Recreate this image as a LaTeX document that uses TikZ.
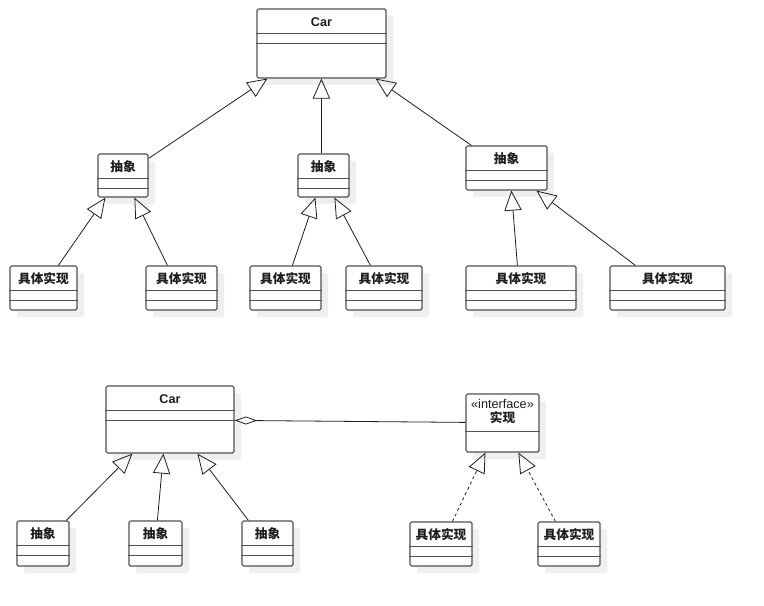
\documentclass[tikz,border=0pt]{standalone}
\usepackage{fontspec}
\setmainfont{Liberation Sans}
\newfontfamily\cjk{Noto Sans CJK SC}
\usepackage{tikz}
\usetikzlibrary{positioning,arrows.meta,calc,fit,shadows}
\definecolor{ink}{HTML}{1E1E1E}
\definecolor{frame}{HTML}{505050}
\definecolor{shade}{HTML}{EFEFEF}
\tikzset{
  cls/.style  = {draw=frame, fill=white, line width=0.9pt, rounded corners=1.2pt, inner sep=0pt,
                 general shadow={fill=shade, shadow xshift=5.25pt, shadow yshift=-5.25pt}},
  ttl/.style  = {font=\fontsize{9.5}{10.5}\selectfont\bfseries, text=ink, inner sep=0pt, align=center},
  div/.style  = {draw=frame, line width=0.9pt},
  gen/.style  = {-{Triangle[open, length=15pt, width=13pt]}, line width=0.6pt, draw=ink},
  real/.style = {gen, dash pattern=on 2.2pt off 2.2pt},
  agg/.style  = {{Diamond[open, length=17pt, width=6pt]}-, line width=0.6pt, draw=ink},
}
\begin{document}
\begin{tikzpicture}[x=0.75pt, y=-0.75pt]
  \useasboundingbox (0,0) rectangle (764,606);

  % class boxes: name / left / top / right / bottom / title
  \foreach \n/\l/\t/\r/\b/\txt in {
      car/257/9/386/78/Car,
      a1/98/154/148/197/{\cjk 抽象}, a2/298/154/349/197/{\cjk 抽象}, a3/466/146/547/190/{\cjk 抽象},
      k11/10/266/77/310/{\cjk 具体实现}, k12/146/266/217/310/{\cjk 具体实现},
      k21/250/266/321/310/{\cjk 具体实现}, k22/346/266/422/310/{\cjk 具体实现},
      k31/466/266/576/310/{\cjk 具体实现}, k32/610/266/725/310/{\cjk 具体实现},
      car2/106/386/234/453/Car,
      b1/17/521/69/566/{\cjk 抽象}, b2/129/521/182/566/{\cjk 抽象}, b3/242/521/293/566/{\cjk 抽象},
      k41/410/522/472/566/{\cjk 具体实现}, k42/538/522/600/566/{\cjk 具体实现}}{
    \node[cls, fit={(\l,\t) (\r,\b)}] (\n) {};
    \node[ttl] (\n-t) at ($(\n.north)+(0,13.5)$) {\txt};
    \draw[div] ($(\n.north west)+(0,25)$) -- ($(\n.north east)+(0,25)$);
    \draw[div] ($(\n.north west)+(0,35)$) -- ($(\n.north east)+(0,35)$);
  }

  % interface
  \node[cls, fit={(466,394) (539,452)}] (impl) {};
  \node[ttl] (impl-t) at ($(impl.north)+(0,18)$) {\mdseries «interface»\\{\cjk\bfseries 实现}};
  \draw[div] ($(impl.north west)+(0,38)$) -- ($(impl.north east)+(0,38)$);

  % upper hierarchy
  \draw[gen] ($(a1.north east)+(0,5)$) -- ($(car.south west)+(11,0)$);
  \draw[gen] ($(a2.north west)+(24,0)$) -- ($(car.south west)+(65,0)$);
  \draw[gen] ($(a3.north west)+(6,0)$) -- ($(car.south east)+(-11,0)$);
  \draw[gen] ($(k11.north west)+(49,0)$) -- ($(a1.south west)+(8,0)$);
  \draw[gen] ($(k12.north west)+(22,0)$) -- ($(a1.south west)+(37,0)$);
  \draw[gen] ($(k21.north west)+(43,0)$) -- ($(a2.south west)+(18,0)$);
  \draw[gen] ($(k22.north west)+(25,0)$) -- ($(a2.south west)+(37,0)$);
  \draw[gen] ($(k31.north west)+(52,0)$) -- ($(a3.south west)+(46,0)$);
  \draw[gen] ($(k32.north west)+(26,0)$) -- ($(a3.south west)+(71,0)$);

  % lower hierarchy
  \draw[gen] ($(b1.north west)+(50,0)$) -- ($(car2.south west)+(27,0)$);
  \draw[gen] ($(b2.north west)+(29,0)$) -- ($(car2.south west)+(58,0)$);
  \draw[gen] ($(b3.north west)+(7,0)$) -- ($(car2.south west)+(92,0)$);
  \draw[agg] ($(car2.north east)+(0,35)$) -- ($(impl.north west)+(0,29)$);
  \draw[real] ($(k41.north west)+(43,0)$) -- ($(impl.south west)+(20,0)$);
  \draw[real] ($(k42.north west)+(18,0)$) -- ($(impl.south west)+(53,0)$);
\end{tikzpicture}
\end{document}
